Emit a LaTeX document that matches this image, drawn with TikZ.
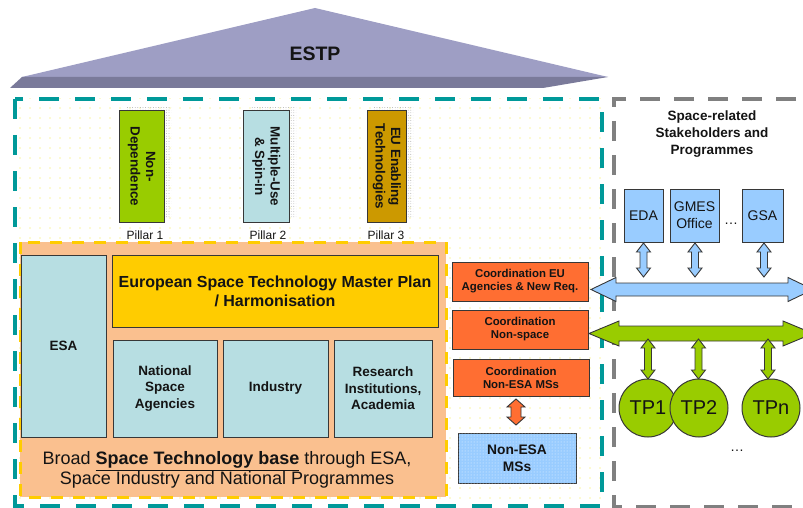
\documentclass[tikz,border=0pt]{standalone}
\usepackage{fontspec}
\setmainfont{Liberation Sans}
\usetikzlibrary{patterns.meta}

\definecolor{ink}{RGB}{20,20,20}
\definecolor{edge}{RGB}{55,55,55}
\definecolor{teal}{RGB}{0,153,153}
\definecolor{roofA}{RGB}{158,158,196}
\definecolor{roofB}{RGB}{122,122,154}
\definecolor{peach}{RGB}{250,192,143}
\definecolor{gold}{RGB}{255,204,0}
\definecolor{paleteal}{RGB}{183,222,226}
\definecolor{leaf}{RGB}{153,204,0}
\definecolor{ochre}{RGB}{204,153,0}
\definecolor{coral}{RGB}{255,110,50}
\definecolor{sky}{RGB}{153,204,255}
\definecolor{greydash}{RGB}{128,128,128}
\definecolor{dotyellow}{RGB}{250,245,160}

\newcommand\fsz[2]{\fontsize{#1}{#2}\selectfont}

% vertical double block arrow: style, x, top tip, bottom tip, head half-width, shaft half-width, head length
\newcommand\vdarrow[7]{%
  \draw[#1] (#2,#3) -- ({#2+#5},{#3+#7}) -- ({#2+#6},{#3+#7}) -- ({#2+#6},{#4-#7})
    -- ({#2+#5},{#4-#7}) -- (#2,#4) -- ({#2-#5},{#4-#7}) -- ({#2-#6},{#4-#7})
    -- ({#2-#6},{#3+#7}) -- ({#2-#5},{#3+#7}) -- cycle;}
% horizontal double block arrow: style, y, left tip, right tip, head half-height, shaft half-height, head length
\newcommand\hdarrow[7]{%
  \draw[#1] (#3,#2) -- ({#3+#7},{#2-#5}) -- ({#3+#7},{#2-#6}) -- ({#4-#7},{#2-#6})
    -- ({#4-#7},{#2-#5}) -- (#4,#2) -- ({#4-#7},{#2+#5}) -- ({#4-#7},{#2+#6})
    -- ({#3+#7},{#2+#6}) -- ({#3+#7},{#2+#5}) -- cycle;}

\begin{document}
\begin{tikzpicture}[x=1pt,y=-1pt,
  box/.style={draw=edge, line width=1pt, inner sep=0pt, align=center, text=ink,
    font=\bfseries\fsz{13.5}{16.5}},
  pillar/.style={box, minimum width=#1, minimum height=111, font=\bfseries\fsz{13.4}{15.5}},
  pillarshade/.style={pattern={Dots[distance=2.6pt,radius=0.45pt]}, pattern color=gray!70},
  pillarname/.style={text=ink, font=\fsz{12}{14}},
  coord/.style={box, fill=coral, minimum width=136, font=\bfseries\fsz{11.4}{13}},
  stake/.style={box, fill=sky, minimum height=53, font=\fsz{14}{17}},
  tp/.style={circle, draw=edge, line width=1pt, fill=leaf, minimum size=58, inner sep=0pt,
    text=ink, font=\fsz{20}{22}},
  blueArrow/.style={draw=edge, line width=0.9pt, fill=sky},
  greenArrow/.style={draw=edge, line width=0.9pt, fill=leaf},
  coralArrow/.style={draw=edge, line width=0.9pt, fill=coral}]

\useasboundingbox (0,0) rectangle (803,508);

% roof
\fill[roofA] (22,77) -- (315,8) -- (608,77) -- cycle;
\fill[roofB] (22,77) -- (608,77) -- (543,88) -- (10,88) -- cycle;
\node[font=\bfseries\fsz{19.5}{22}, text=ink] (estp) at (315,54) {ESTP};

% dotted background of the ESTP house
\fill[pattern={Dots[distance=10pt,radius=0.9pt]}, pattern color=dotyellow] (15,99) rectangle (602,506);
\draw[teal, line width=4pt, dash pattern=on 20pt off 16pt] (15,99) rectangle (602,506);

% stakeholder frame
\draw[greydash, line width=4pt, dash pattern=on 20pt off 14pt] (830,99) -- (614,99) -- (614,507) -- (830,507);

% pillars
\fill[pillarshade] (126,107) rectangle (171,217);
\fill[pillarshade] (250,107) rectangle (296,217);
\fill[pillarshade] (374,107) rectangle (413,217);
\node[pillar=45, fill=leaf] (p1) at (141.5,166.5) {\rotatebox{-90}{\begin{tabular}{@{}c@{}}Non-\\Dependence\end{tabular}}};
\node[pillar=46, fill=paleteal] (p2) at (266,166.5) {\rotatebox{-90}{\begin{tabular}{@{}c@{}}Multiple-Use\\\& Spin-in\end{tabular}}};
\node[pillar=39, fill=ochre] (p3) at (386.5,166.5) {\rotatebox{-90}{\begin{tabular}{@{}c@{}}EU Enabling\\Technologies\end{tabular}}};
\node[pillarname] (l1) at (145,235) {Pillar 1};
\node[pillarname] (l2) at (268,235) {Pillar 2};
\node[pillarname] (l3) at (386,235) {Pillar 3};

% space technology base
\draw[gold, fill=peach, line width=3pt, dash pattern=on 12pt off 10pt] (20,242) rectangle (446,497);
\node[box, fill=paleteal, minimum width=85, minimum height=182] (esa) at (63.5,346) {ESA};
\node[box, fill=gold, minimum width=326, minimum height=72, font=\bfseries\fsz{16}{19}] (plan) at (275,291)
  {European Space Technology Master Plan\\/ Harmonisation};
\node[box, fill=paleteal, minimum width=104, minimum height=97] (nsa) at (165,388.5) {National\\Space\\Agencies};
\node[box, fill=paleteal, minimum width=105, minimum height=97] (ind) at (275.5,388.5) {Industry};
\node[box, fill=paleteal, minimum width=98, minimum height=97] (res) at (383,388.5) {Research\\Institutions,\\Academia};
\node[align=center, text=ink, font=\fsz{18}{20}] (base) at (227,470)
  {Broad \underline{\textbf{Space Technology base}} through ESA,\\Space Industry and National Programmes};

% coordination column
\node[coord, minimum height=39] (ceu) at (520,281.5) {Coordination EU\\Agencies \& New Req.};
\node[coord, minimum height=39] (cns) at (520,329.5) {Coordination\\Non-space};
\node[coord, minimum height=37] (cne) at (521,377.5) {Coordination\\Non-ESA MSs};
\node[box, fill=sky, minimum width=118, minimum height=50, font=\bfseries\fsz{13.8}{17},
  postaction={pattern={Dots[distance=3pt,radius=0.5pt]}, pattern color=white!80!sky}] (ness) at (517,458) {Non-ESA\\MSs};
\vdarrow{coralArrow}{516}{399}{425}{9}{5}{8}

% stakeholders
\node[align=center, text=ink, font=\bfseries\fsz{13.5}{16.7}] (sh) at (712,134) {Space-related\\Stakeholders and\\Programmes};
\node[stake, minimum width=39] (eda) at (643.5,215.5) {EDA};
\node[stake, minimum width=49] (gmes) at (694.5,215.5) {GMES\\Office};
\node[stake, minimum width=41] (gsa) at (762.5,215.5) {GSA};
\node[text=ink, font=\fsz{14}{17}] (sdots) at (731,224) {\dots};

\vdarrow{blueArrow}{643.5}{243}{277}{7}{3.5}{9}
\vdarrow{blueArrow}{695}{243}{277}{7}{3.5}{9}
\vdarrow{blueArrow}{764}{243}{277}{7}{3.5}{9}
\hdarrow{blueArrow}{289.5}{591}{813}{12}{6.5}{25}

\hdarrow{greenArrow}{333.5}{589}{813}{12.5}{7.5}{30}
\vdarrow{greenArrow}{648}{339}{379}{7}{3.5}{9}
\vdarrow{greenArrow}{698.5}{339}{379}{7}{3.5}{9}
\vdarrow{greenArrow}{768}{339}{379}{7}{3.5}{9}

\node[tp] (tp1) at (648,408) {TP1};
\node[tp] (tp2) at (699,408) {TP2};
\node[tp] (tpn) at (771,408) {TPn};
\node[text=ink, font=\fsz{14}{17}] (tdots) at (737,451) {\dots};

\end{tikzpicture}
\end{document}
